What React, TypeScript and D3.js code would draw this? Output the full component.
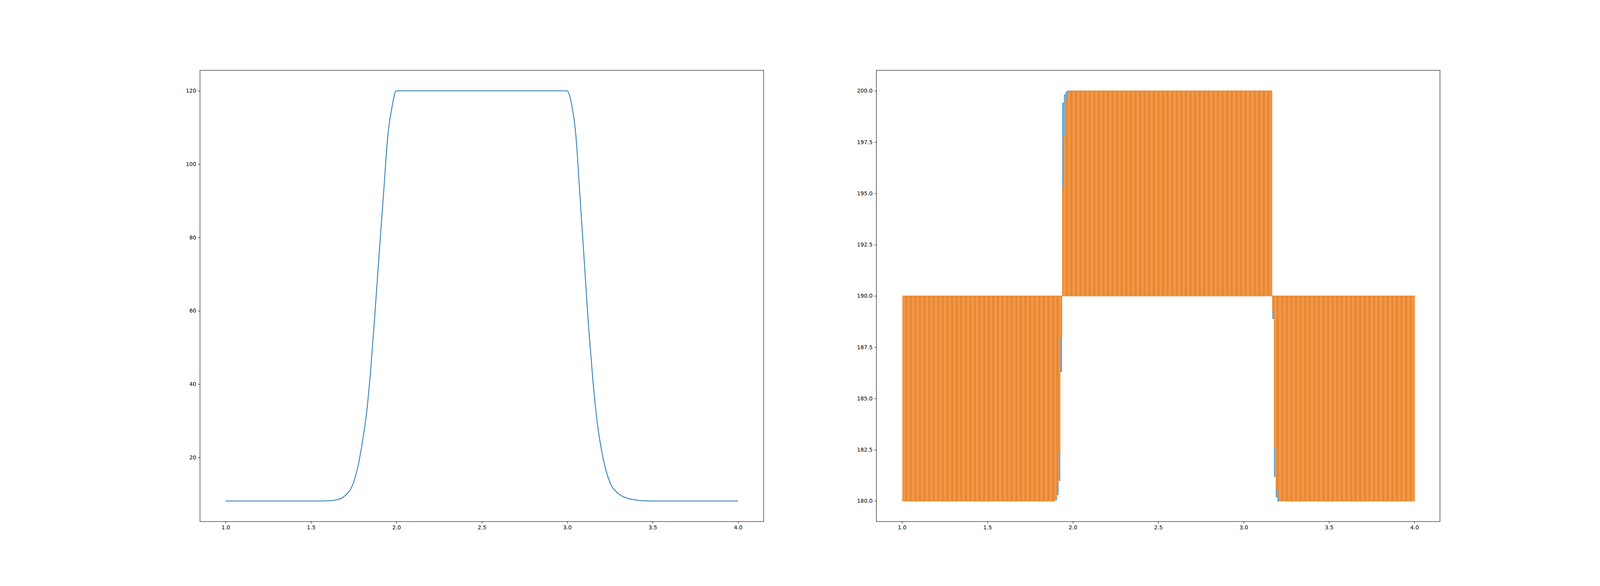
import { useEffect, useRef } from 'react';
import * as d3 from 'd3';

// ---- data ----

// left panel: smooth plateau profile
const profileX = [1.0, 1.55, 1.6, 1.65, 1.7, 1.75, 1.775, 1.8, 1.825, 1.85, 1.875, 1.9, 1.925, 1.95, 1.975, 1.99, 2.0,
  3.0, 3.01, 3.025, 3.05, 3.075, 3.1, 3.125, 3.15, 3.175, 3.2, 3.225, 3.25, 3.3, 3.35, 3.4, 3.45, 3.5, 4.0];
const profileY = [8.1, 8.1, 8.15, 8.45, 9.6, 13.3, 17.6, 24.0, 32.0, 44.3, 59.8, 76.2, 92.2, 107.9, 115.8, 119.2, 120,
  120, 119.2, 116.5, 108.2, 91.0, 73.4, 55.7, 41.2, 29.8, 22.2, 16.8, 13.2, 10.1, 8.9, 8.4, 8.15, 8.1, 8.1];

// right panel: samples alternate between a fixed mid level and a switching level
const sampleStart = 1.0;
const sampleEnd   = 4.0;
const sampleStep  = 0.005;
const midLevel    = 190;

// switching level, held from each knot until the next one
const blueKnotX   = [1.0, 1.9, 1.91, 1.92, 1.93, 1.94, 1.95, 1.96, 1.97, 3.17, 3.18, 3.19, 3.2];
const blueKnotY   = [180, 180.05, 180.3, 181.0, 186.3, 199.4, 199.8, 199.95, 200, 188.9, 181.2, 180.2, 180];
const orangeKnotX = [1.0, 1.9, 1.91, 1.92, 1.93, 1.94, 1.95, 1.96, 1.97, 1.98, 3.17, 3.18, 3.19, 3.2, 3.21];
const orangeKnotY = [180, 180.2, 180.9, 182.4, 188.0, 195.3, 197.8, 199.6, 199.9, 200, 189.3, 182.6, 180.6, 180.2, 180];

const xTicks      = [1.0, 1.5, 2.0, 2.5, 3.0, 3.5, 4.0];
const leftYTicks  = [20, 40, 60, 80, 100, 120];
const rightYTicks = [180, 182.5, 185, 187.5, 190, 192.5, 195, 197.5, 200];

const BLUE   = '#1f77b4';
const ORANGE = '#ff7f0e';

function buildSeries(kx: number[], ky: number[]): [number, number][] {
  const n = Math.round((sampleEnd - sampleStart) / sampleStep);
  const pts: [number, number][] = [];
  let k = 0;
  for (let i = 0; i <= n; i++) {
    const x = sampleStart + i * sampleStep;
    while (k + 1 < kx.length && kx[k + 1] <= x + 1e-9) k++;
    pts.push([x, i % 2 ? midLevel : ky[k]]);
  }
  return pts;
}

function padded(lo: number, hi: number): [number, number] {
  const m = (hi - lo) * 0.05;
  return [lo - m, hi + m];
}

export default function App() {
  const svgRef = useRef<SVGSVGElement>(null);

  useEffect(() => {
    if (!svgRef.current) return;
    const svg = d3.select(svgRef.current);
    svg.selectAll('*').remove();

    // figure fills the window, laid out like a 1x2 matplotlib figure
    const W = window.innerWidth || 6000;
    const H = window.innerHeight || 1500;
    const sy = H / 1500;

    const top = 0.12 * H, bottom = 0.89 * H;
    const axW = (0.775 * W) / 2.2;
    const lefts = [0.125 * W, 0.125 * W + axW * 1.2];
    const h = bottom - top;
    const tick = 4.86 * sy, lw = 1.11 * sy, fs = 13.89 * sy;

    svg.attr('width', W).attr('height', H);
    svg.append('rect').attr('width', W).attr('height', H).attr('fill', '#fff');

    const blue   = buildSeries(blueKnotX, blueKnotY);
    const orange = buildSeries(orangeKnotX, orangeKnotY);
    const allX   = profileX.concat(blue.map(d => d[0]));
    const [xmin, xmax] = d3.extent(allX) as [number, number];

    const panels = [
      {
        yDomain: padded(d3.min(profileY)!, d3.max(profileY)!),
        yTicks: leftYTicks, yFmt: d3.format('d'),
        series: [{ pts: profileX.map((x, i) => [x, profileY[i]] as [number, number]), color: BLUE, smooth: true, under: false }],
      },
      {
        yDomain: padded(
          d3.min(blue.concat(orange), d => d[1])!,
          d3.max(blue.concat(orange), d => d[1])!),
        yTicks: rightYTicks, yFmt: d3.format('.1f'),
        series: [
          { pts: blue, color: BLUE, smooth: false, under: true },
          { pts: orange, color: ORANGE, smooth: false, under: false },
        ],
      },
    ];

    panels.forEach((p, pi) => {
      const g = svg.append('g').attr('transform', `translate(${lefts[pi]},${top})`);
      const x = d3.scaleLinear().domain(padded(xmin, xmax)).range([0, axW]);
      const y = d3.scaleLinear().domain(p.yDomain).range([h, 0]);

      // stroke spacing of the dense signal, so the white gaps keep their share
      const pitch = x(sampleStart + sampleStep) - x(sampleStart);
      const denseW = Math.min(2.08 * sy, 0.78 * pitch);

      p.series.forEach(s => {
        const line = d3.line<[number, number]>()
          .x(d => x(d[0])).y(d => y(d[1]))
          .curve(s.smooth ? d3.curveMonotoneX : d3.curveStepAfter);
        g.append('path')
          .attr('d', line(s.pts))
          .attr('fill', 'none')
          .attr('stroke', s.color)
          .attr('stroke-width', s.smooth ? 2.08 * sy : denseW * (s.under ? 0.8 : 1))
          .attr('stroke-linejoin', 'round')
          .attr('stroke-linecap', 'butt');
      });

      const styleAxis = (a: d3.Selection<SVGGElement, unknown, null, undefined>) => {
        a.select('.domain').remove();
        a.selectAll('line').attr('stroke', '#000').attr('stroke-width', lw);
        a.selectAll('text')
          .attr('fill', '#000')
          .attr('font-size', fs)
          .attr('font-family', '"DejaVu Sans", sans-serif');
      };

      g.append('g')
        .attr('transform', `translate(0,${h})`)
        .call(d3.axisBottom(x).tickValues(xTicks).tickFormat(d3.format('.1f'))
          .tickSizeInner(tick).tickSizeOuter(0).tickPadding(tick))
        .call(styleAxis);

      g.append('g')
        .call(d3.axisLeft(y).tickValues(p.yTicks).tickFormat(p.yFmt as any)
          .tickSizeInner(tick).tickSizeOuter(0).tickPadding(tick))
        .call(styleAxis);

      g.append('rect')
        .attr('width', axW).attr('height', h)
        .attr('fill', 'none').attr('stroke', '#000').attr('stroke-width', lw);
    });
  }, []);

  return (
    <svg ref={svgRef} style={{ position: 'fixed', left: 0, top: 0, display: 'block' }} />
  );
}
